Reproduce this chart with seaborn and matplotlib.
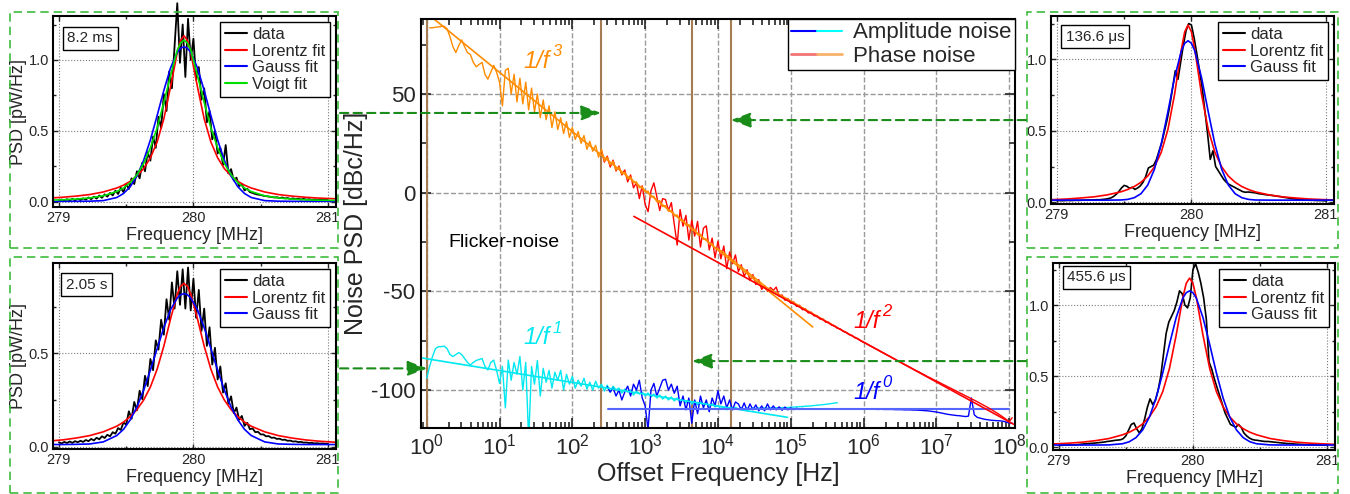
import numpy as np
import matplotlib
matplotlib.use("Agg")
import matplotlib.pyplot as plt
import seaborn as sns
from matplotlib.lines import Line2D
from matplotlib.legend_handler import HandlerTuple
from matplotlib.patches import Rectangle, ConnectionPatch
from matplotlib.ticker import FormatStrFormatter, MultipleLocator, LogLocator, NullFormatter
from matplotlib.transforms import blended_transform_factory

# Style
sns.set_style("ticks")
plt.rcParams['font.family'] = ['Liberation Sans', 'DejaVu Sans']
plt.rcParams['axes.unicode_minus'] = False

# -------------------------------
# DATA: side panels (PSD in pW/Hz vs MHz)
# -------------------------------
F_FIT_L = [278.88, 279.03, 279.13, 279.23, 279.33, 279.43, 279.48, 279.53, 279.58, 279.63, 279.68, 279.73,
           279.78, 279.83, 279.88, 279.905, 279.93, 279.955, 279.98, 280.03, 280.08, 280.13, 280.18, 280.23,
           280.28, 280.33, 280.38, 280.43, 280.53, 280.63, 280.73, 280.83, 280.93, 281.08]
F_FIT_R = [278.925, 279.075, 279.175, 279.275, 279.375, 279.475, 279.525, 279.575, 279.625, 279.675, 279.725,
           279.775, 279.825, 279.875, 279.925, 279.95, 279.975, 280.0, 280.025, 280.075, 280.125, 280.175,
           280.225, 280.275, 280.325, 280.375, 280.425, 280.475, 280.575, 280.675, 280.775, 280.875, 280.975, 281.125]

# 8.2 ms
D_TL = [0.008, 0.016, 0.006, 0.018, 0.009, 0.020, 0.010, 0.022, 0.012, 0.024, 0.015,
        0.030, 0.018, 0.036, 0.022, 0.044, 0.028, 0.052, 0.036, 0.062, 0.045,
        0.078, 0.055, 0.098, 0.068, 0.125, 0.090, 0.165, 0.125, 0.215, 0.165,
        0.275, 0.215, 0.350, 0.290, 0.460, 0.380, 0.600, 0.520, 0.760, 0.640,
        0.920, 0.800, 1.100, 1.400, 0.980, 1.250, 0.880, 1.290, 1.000, 1.150,
        0.860, 0.950, 0.720, 0.800, 0.560, 0.640, 0.440, 0.500, 0.340, 0.380,
        0.260, 0.400, 0.200, 0.230, 0.150, 0.170, 0.110, 0.125, 0.080, 0.092,
        0.068, 0.062, 0.055, 0.050, 0.048, 0.042, 0.040, 0.036, 0.034, 0.030,
        0.032, 0.026, 0.030, 0.024, 0.026, 0.020, 0.024, 0.018, 0.022, 0.016,
        0.020, 0.015, 0.018, 0.014, 0.016, 0.012, 0.015, 0.012, 0.014, 0.012]
L_TL = [0.023, 0.032, 0.040, 0.051, 0.069, 0.097, 0.117, 0.144, 0.182, 0.234, 0.310, 0.421, 0.585, 0.810,
        1.053, 1.138, 1.170, 1.138, 1.053, 0.810, 0.585, 0.421, 0.310, 0.234, 0.182, 0.144, 0.117, 0.097,
        0.069, 0.051, 0.040, 0.032, 0.026, 0.020]
G_TL = [0.003, 0.003, 0.003, 0.004, 0.008, 0.030, 0.058, 0.106, 0.182, 0.292, 0.436, 0.607, 0.785, 0.944,
        1.054, 1.083, 1.093, 1.083, 1.054, 0.944, 0.785, 0.607, 0.436, 0.292, 0.182, 0.106, 0.058, 0.030,
        0.008, 0.004, 0.003, 0.003, 0.003, 0.003]
V_TL = [0.010, 0.014, 0.019, 0.027, 0.042, 0.072, 0.097, 0.135, 0.190, 0.270, 0.380, 0.520, 0.700, 0.890,
        1.070, 1.120, 1.140, 1.120, 1.070, 0.890, 0.700, 0.520, 0.380, 0.270, 0.190, 0.135, 0.097, 0.072,
        0.042, 0.027, 0.019, 0.014, 0.011, 0.009]

# 2.05 s
D_BL = [0.024, 0.018, 0.026, 0.020, 0.028, 0.021, 0.030, 0.024, 0.032, 0.026, 0.036,
        0.030, 0.042, 0.034, 0.048, 0.040, 0.056, 0.047, 0.064, 0.056, 0.078,
        0.070, 0.100, 0.090, 0.130, 0.118, 0.190, 0.150, 0.240, 0.195, 0.300,
        0.255, 0.380, 0.325, 0.470, 0.410, 0.570, 0.520, 0.680, 0.600, 0.790,
        0.680, 0.880, 0.740, 0.940, 0.760, 0.950, 0.740, 0.960, 0.730, 0.900,
        0.690, 0.840, 0.620, 0.740, 0.540, 0.640, 0.440, 0.530, 0.360, 0.430,
        0.290, 0.340, 0.230, 0.270, 0.180, 0.210, 0.145, 0.165, 0.112, 0.128,
        0.094, 0.098, 0.078, 0.080, 0.066, 0.066, 0.056, 0.057, 0.048, 0.049,
        0.042, 0.043, 0.037, 0.038, 0.032, 0.033, 0.028, 0.029, 0.025, 0.026,
        0.022, 0.023, 0.020, 0.021, 0.018, 0.019, 0.017, 0.018, 0.016, 0.016]
L_BL = [0.028, 0.037, 0.047, 0.060, 0.080, 0.110, 0.132, 0.161, 0.199, 0.250, 0.320, 0.415, 0.539, 0.685,
        0.818, 0.860, 0.875, 0.860, 0.818, 0.685, 0.539, 0.415, 0.320, 0.250, 0.199, 0.161, 0.132, 0.110,
        0.080, 0.060, 0.047, 0.037, 0.030, 0.023]
G_BL = [0.012, 0.012, 0.013, 0.015, 0.026, 0.060, 0.093, 0.144, 0.213, 0.303, 0.410, 0.525, 0.638, 0.734,
        0.797, 0.814, 0.820, 0.814, 0.797, 0.734, 0.638, 0.525, 0.410, 0.303, 0.213, 0.144, 0.093, 0.060,
        0.026, 0.015, 0.013, 0.012, 0.012, 0.012]

# 136.6 us
D_TR = [0.012, 0.012, 0.011, 0.012, 0.013, 0.012, 0.013, 0.014, 0.013, 0.014, 0.015,
        0.015, 0.016, 0.016, 0.017, 0.018, 0.018, 0.020, 0.022, 0.025, 0.030,
        0.040, 0.055, 0.075, 0.100, 0.118, 0.112, 0.098, 0.105, 0.090, 0.100,
        0.115, 0.140, 0.180, 0.240, 0.250, 0.260, 0.300, 0.360, 0.420, 0.500,
        0.580, 0.680, 0.800, 0.920, 0.860, 0.980, 1.100, 1.200, 1.250, 1.240,
        1.150, 1.040, 0.920, 0.800, 0.640, 0.480, 0.300, 0.360, 0.250, 0.220,
        0.190, 0.160, 0.140, 0.125, 0.115, 0.105, 0.095, 0.085, 0.075, 0.070,
        0.072, 0.070, 0.068, 0.065, 0.060, 0.058, 0.055, 0.052, 0.050, 0.048,
        0.045, 0.042, 0.040, 0.036, 0.033, 0.030, 0.026, 0.024, 0.022, 0.020,
        0.018, 0.016, 0.015, 0.014, 0.014, 0.013, 0.012, 0.012, 0.011, 0.010]
L_TR = [0.017, 0.023, 0.030, 0.038, 0.052, 0.073, 0.089, 0.110, 0.140, 0.183, 0.248, 0.348, 0.508, 0.756,
        1.069, 1.192, 1.240, 1.192, 1.069, 0.756, 0.508, 0.348, 0.248, 0.183, 0.140, 0.110, 0.089, 0.073,
        0.052, 0.038, 0.030, 0.023, 0.019, 0.014]
G_TR = [0.015, 0.015, 0.015, 0.015, 0.015, 0.016, 0.020, 0.032, 0.060, 0.120, 0.231, 0.405, 0.633, 0.873,
        1.059, 1.112, 1.130, 1.112, 1.059, 0.873, 0.633, 0.405, 0.231, 0.120, 0.060, 0.032, 0.020, 0.016,
        0.015, 0.015, 0.015, 0.015, 0.015, 0.015]

# 455.6 us
D_BR = [0.012, 0.013, 0.014, 0.014, 0.015, 0.016, 0.017, 0.018, 0.020, 0.022, 0.024,
        0.025, 0.027, 0.028, 0.030, 0.032, 0.034, 0.036, 0.040, 0.042, 0.045,
        0.048, 0.050, 0.052, 0.060, 0.080, 0.120, 0.160, 0.170, 0.130, 0.100,
        0.130, 0.200, 0.280, 0.340, 0.300, 0.330, 0.400, 0.500, 0.650, 0.800,
        0.880, 0.920, 0.960, 1.020, 1.100, 1.080, 1.000, 0.980, 1.050, 1.250,
        1.290, 1.230, 1.150, 1.050, 0.900, 0.600, 0.550, 0.480, 0.420, 0.360,
        0.300, 0.240, 0.200, 0.160, 0.150, 0.140, 0.160, 0.140, 0.100, 0.080,
        0.065, 0.055, 0.050, 0.048, 0.045, 0.042, 0.040, 0.040, 0.038, 0.036,
        0.034, 0.032, 0.030, 0.028, 0.026, 0.025, 0.024, 0.022, 0.021, 0.020,
        0.019, 0.018, 0.017, 0.016, 0.016, 0.015, 0.015, 0.014, 0.014, 0.014]
L_BR = [0.021, 0.028, 0.035, 0.046, 0.061, 0.087, 0.105, 0.130, 0.164, 0.213, 0.284, 0.391, 0.554, 0.788,
        1.055, 1.153, 1.190, 1.153, 1.055, 0.788, 0.554, 0.391, 0.284, 0.213, 0.164, 0.130, 0.105, 0.087,
        0.061, 0.046, 0.035, 0.028, 0.023, 0.017]
G_BR = [0.015, 0.015, 0.015, 0.015, 0.016, 0.024, 0.038, 0.067, 0.121, 0.211, 0.346, 0.523, 0.723, 0.912,
        1.050, 1.087, 1.100, 1.087, 1.050, 0.912, 0.723, 0.523, 0.346, 0.211, 0.121, 0.067, 0.038, 0.024,
        0.016, 0.015, 0.015, 0.015, 0.015, 0.015]

# -------------------------------
# DATA: center panel (dBc/Hz vs Hz), log-spaced samples
# -------------------------------
ORANGE_LOG = (0.04, 5.64)
ORANGE_DB = [83.5, 83.6, 83.8, 84.0, 84.2, 84.3, 83.0, 79.0, 74.0, 71.0, 74.5, 77.4, 74.0, 71.0, 70.0, 66.0,
             63.8, 65.0, 66.0, 60.0, 57.5, 61.0, 64.5, 61.0, 56.0,
             44, 62, 63, 50, 60, 46, 58, 45, 56, 42, 53, 41, 50, 38, 47, 37, 44, 33, 41, 32, 38, 30, 36, 28, 33,
             27, 31, 25, 29, 22, 26, 21, 24, 18, 22, 16, 18, 14, 16, 11.5, 13, 9.5, 10.5, 7, 8, 5, 5.5, 2.5, 3, 0.5,
             0.8, -2.2, -1.8, -4.6, -4.0, -7.0, -6.5, -9.4, -8.9, -11.8, -11.3, -14.1, -13.8, -16.5, -16.2,
             -18.9, -18.6, -21.3, -21.0, -23.6, -23.4, -26.0, -25.9, -28.3, -28.4,
             -29.4, -30.2, -31.8, -32.6, -34.2, -35.0, -36.5, -37.5, -38.8, -39.9, -41.2, -42.3, -43.5, -44.6,
             -45.9, -47.2, -48.2, -49.0, -49.9, -50.7, -51.5, -52.4, -53.1, -54.0, -54.8,
             -55.7, -56.5, -57.4, -58.2, -59.1, -59.9, -60.8, -61.6, -62.5, -63.3, -64.1, -65.0, -65.8, -66.7,
             -67.5, -68.3]
RED_LOG = (2.40, 8.04)
RED_DB = [21.5, 15.5, 18.5, 13.0, 16.5, 11.0, 13.5, 9.0, 11.5, 5.5, 9.0, 2.5, 5.0, -3.0, 3.5, -6.0,
          -9.6, 1.0, 5.0, -2.0, -9.0, -3.0, -3.5, -9.0, -5.0, -16.0, -26.5, -8.5, -17.0, -11.5, -24.0, -14.0,
          -22.0, -14.5, -27.5, -18.0, -16.8, -29.0, -23.0, -33.0, -24.5,
          -33.5, -27.0, -38.5, -30.0, -36.0, -31.5, -40.0, -36.5, -42.5, -39.0, -44.5, -41.5, -46.5, -44.0, -49.0,
          -47.0, -50.0, -48.0, -49.5, -47.8, -52.5, -51.8, -54.5, -53.6, -56.0, -55.3, -57.6, -57.0, -59.3,
          -58.8, -60.9, -60.5, -62.4, -62.2, -64.0, -63.9, -65.6, -65.6, -67.1, -67.4, -68.7, -69.0, -70.3,
          -70.7, -71.9, -72.3, -73.5, -73.9, -75.1, -75.8,
          -76.5, -77.4, -78.1, -79.0, -79.7, -80.6, -81.3, -82.2, -82.9, -83.8, -84.5, -85.4, -86.1, -87.0,
          -87.7, -88.5, -89.3, -90.1, -90.8, -91.6, -92.4, -93.2, -93.9, -94.7, -95.4, -96.1, -96.9, -97.6,
          -98.4, -99.1, -99.9, -100.6, -101.4, -102.1, -102.9, -103.6, -104.4, -105.1, -105.9, -106.7, -107.5,
          -108.3, -109.1, -110.0, -110.9, -111.8, -112.8, -113.8, -114.9, -116.0, -114.0]
CYAN_LOG = (0.0, 5.64)
CYAN_DB = [-94, -88, -83, -79, -78, -78, -77.7, -79, -82, -83, -82, -81, -82, -84, -86, -87.3, -86, -85,
           -84.5, -84, -88, -89.8, -86, -84.8, -90,
           -96.6, -88, -109, -84.8, -95, -86, -92, -83, -100, -86, -125, -88, -97, -85, -103, -89, -96, -90,
           -99, -91, -95, -90, -100, -92, -97,
           -93, -99, -95, -98, -94, -99.5, -96, -100, -95.5, -99, -97, -100.5, -97.5, -101, -98, -100, -99,
           -101.5, -99.5, -101, -100, -102.5, -100.5, -102, -101,
           -103, -101.5, -103.5, -102, -104, -102.5, -104.5, -103, -105, -103.5, -105.5, -104, -106, -104.5,
           -106.5, -105, -107, -105.5, -107.5, -106, -108, -106.5, -108.5, -107, -108.5,
           -108, -109.5, -108.5, -110, -108.8, -109.8, -108.7, -109.6, -108.9, -109.7, -109, -109.5, -109,
           -109.4, -109, -109.3, -109, -109.2, -109, -109.1, -109, -109, -108.9, -108.9, -108.8,
           -108.7, -108.6, -108.5, -108.4, -108.3, -108.2, -108.1, -108.0, -107.8, -107.7, -107.5, -107.4,
           -107.2, -107.0, -106.8, -106.6, -106.4]
BLUE_LOG = (2.48, 8.04)
BLUE_DB = [-98.3, -101, -99, -103, -100, -105, -101, -98, -103, -97, -100, -95, -104,
           -108, -120, -100, -96.6, -103, -99, -95, -94.5, -100, -97, -101.6, -98, -108, -103, -110, -104,
           -116.8, -105, -112, -103, -109, -105, -111, -104, -108,
           -100.3, -107, -103, -109, -105, -110, -106, -107, -110, -106.5, -110.5, -107, -110, -107.5, -110.5,
           -108, -110.5, -107, -110, -108, -110, -108.5, -110.2, -108.6, -110,
           -109, -109.9, -109.2, -109.8, -109.3, -109.7, -109.4, -109.7, -109.4, -109.6, -109.5, -109.6, -109.5,
           -109.6, -109.5, -109.6, -109.5, -109.6, -109.5, -109.6, -109.6, -109.6, -109.6, -109.7, -109.6,
           -109.7, -109.6, -109.7, -109.7, -109.7, -109.8, -109.7, -109.8, -109.8, -109.8, -109.8, -109.9,
           -109.9, -109.9, -110.0, -110.0, -110.0, -110.1, -110.1, -110.2, -110.3, -110.4, -110.5, -110.7, -110.9,
           -111.1, -111.4, -111.7, -112.0, -112.3, -112.5, -112.7, -112.9, -113.0, -113.2, -113.4, -113.2, -104,
           -112.5, -113.8, -114.2, -114.6, -114.9, -115.1, -115.3, -115.4, -115.5, -115.6, -115.8, -116.2,
           -116.6, -116.8]

# power-law fit lines (two end points each)
ORANGE_FIT_F, ORANGE_FIT_DB = [1.2, 2.0e5], [88.6, -68.0]
RED_FIT_F, RED_FIT_DB = [700, 1.15e8], [-12.0, -117.3]
CYAN_FIT_F, CYAN_FIT_DB = [0.82, 9.0e4], [-83.6, -113.8]
BLUE_FIT_F, BLUE_FIT_DB = [310, 1.0e8], [-109.6, -109.6]
MARKER_F = [1.02, 248, 4400, 15000]

ORANGE = '#ff8c00'
RED = '#ff0000'
CYAN = '#00e8f0'
BLUE = '#0000ff'
GREEN_BOX = '#3dbb3d'
GREEN_ARROW = '#1a8c1a'
W, H = 1350, 494


# -------------------------------
# 1. SIDE PANELS
# -------------------------------
def side_panel(ax, data, fit_f, fits, tag, tag_xy, ylim, yticks, ylabel=True, data_lw=1.3):
    f = np.linspace(279.0, 281.0, len(data))
    sns.lineplot(x=f, y=data, ax=ax, color='black', lw=data_lw, label='data', estimator=None, sort=False)
    ax.lines[-1].set_clip_on(False)
    for name, vals, col in fits:
        sns.lineplot(x=fit_f, y=vals, ax=ax, color=col, lw=1.2, label=name, estimator=None, sort=False)
    ax.set_xlim(278.956, 281.06)
    ax.set_ylim(*ylim)
    ax.set_xticks([279, 280, 281])
    ax.set_yticks(yticks)
    ax.xaxis.set_minor_locator(MultipleLocator(0.5))
    ax.yaxis.set_minor_locator(MultipleLocator(0.25))
    ax.yaxis.set_major_formatter(FormatStrFormatter('%.1f'))
    ax.grid(True, which='major', ls=':', color='#7a7a7a', lw=0.8)
    ax.tick_params(which='both', direction='in', top=True, right=True, labelsize=10.5, width=1)
    ax.tick_params(which='major', length=3.5, pad=3)
    ax.tick_params(which='minor', length=2)
    for s in ax.spines.values():
        s.set_linewidth(1.5)
        s.set_color('black')
    ax.set_xlabel('Frequency [MHz]', fontsize=13, labelpad=1)
    if ylabel:
        ax.set_ylabel('PSD [pW/Hz]', fontsize=13, labelpad=1)
    else:
        ax.set_ylabel(None)
    leg = ax.legend(loc='upper right', fontsize=12, fancybox=False, edgecolor='black', framealpha=1,
                    handlelength=1.3, handletextpad=0.3, borderpad=0.3, labelspacing=0.1,
                    borderaxespad=0.35)
    leg.get_frame().set_linewidth(1.0)
    for ln in leg.get_lines():
        ln.set_linewidth(1.5)
    ax.text(tag_xy[0], tag_xy[1], tag, transform=ax.transAxes, fontsize=11, ha='left', va='top',
            bbox=dict(boxstyle='square,pad=0.3', fc='white', ec='black', lw=1))


fig = plt.figure(figsize=(13.5, 4.94), dpi=100)

ax_tl = fig.add_axes([53 / W, 1 - 207 / H, 283 / W, 191 / H])
side_panel(ax_tl, D_TL, F_FIT_L, [('Lorentz fit', L_TL, RED), ('Gauss fit', G_TL, BLUE),
                                  ('Voigt fit', V_TL, '#00e000')],
           '8.2 ms', (0.051, 0.919), (-0.037, 1.31), [0.0, 0.5, 1.0])

ax_bl = fig.add_axes([53 / W, 1 - 449 / H, 283 / W, 186 / H])
side_panel(ax_bl, D_BL, F_FIT_L, [('Lorentz fit', L_BL, RED), ('Gauss fit', G_BL, BLUE)],
           '2.05 s', (0.046, 0.92), (-0.012, 0.984), [0.0, 0.5])

ax_tr = fig.add_axes([1051 / W, 1 - 204 / H, 283 / W, 188 / H])
side_panel(ax_tr, D_TR, F_FIT_R, [('Lorentz fit', L_TR, RED), ('Gauss fit', G_TR, BLUE)],
           '136.6 μs', (0.053, 0.928), (-0.012, 1.303), [0.0, 0.5, 1.0], ylabel=False, data_lw=1.2)

ax_br = fig.add_axes([1053 / W, 1 - 450 / H, 282 / W, 187 / H])
side_panel(ax_br, D_BR, F_FIT_R, [('Lorentz fit', L_BR, RED), ('Gauss fit', G_BR, BLUE)],
           '455.6 μs', (0.05, 0.96), (-0.02, 1.296), [0.0, 0.5, 1.0], ylabel=False, data_lw=1.2)


# -------------------------------
# 2. CENTER NOISE PANEL
# -------------------------------
ax = fig.add_axes([421 / W, 1 - 428 / H, 594 / W, 409 / H])


def trace(logs, vals, color, lw=1.0):
    f = np.logspace(logs[0], logs[1], len(vals))
    sns.lineplot(x=f, y=vals, ax=ax, color=color, lw=lw, estimator=None, sort=False)


for fm in MARKER_F:
    ax.axvline(fm, color='#a57c52', lw=1.5, zorder=1)

trace(CYAN_LOG, CYAN_DB, CYAN)
trace(BLUE_LOG, BLUE_DB, BLUE)
sns.lineplot(x=CYAN_FIT_F, y=CYAN_FIT_DB, ax=ax, color=CYAN, lw=1.2)
sns.lineplot(x=BLUE_FIT_F, y=BLUE_FIT_DB, ax=ax, color='#5566ff', lw=1.5)
trace(RED_LOG, RED_DB, RED)
trace(ORANGE_LOG, ORANGE_DB, ORANGE)
sns.lineplot(x=ORANGE_FIT_F, y=ORANGE_FIT_DB, ax=ax, color=ORANGE, lw=1.2)
sns.lineplot(x=RED_FIT_F, y=RED_FIT_DB, ax=ax, color=RED, lw=1.2)

ax.set_xscale('log')
ax.set_xlim(0.835, 1.2e8)
ax.set_ylim(-119.2, 88)
ax.xaxis.set_major_locator(LogLocator(base=10, numticks=12))
ax.xaxis.set_minor_locator(LogLocator(base=10, subs=np.arange(2, 10), numticks=12))
ax.xaxis.set_minor_formatter(NullFormatter())
ax.yaxis.set_major_locator(MultipleLocator(50))
ax.yaxis.set_minor_locator(MultipleLocator(25))
ax.grid(True, which='major', ls='--', color='#9a9a9a', lw=1.0)
ax.tick_params(which='both', direction='in', top=True, right=True, labelsize=16, width=1.2)
ax.tick_params(which='major', length=7, pad=4)
ax.tick_params(which='minor', length=4)
for s in ax.spines.values():
    s.set_linewidth(1.5)
    s.set_color('black')
ax.set_xlabel('Offset Frequency [Hz]', fontsize=18, labelpad=2)
ax.set_ylabel('Noise PSD [dBc/Hz]', fontsize=18, labelpad=2)

# power-law labels: "1/f" with a raised exponent
for fx, db, power, col in [(21, 66.4, '3', ORANGE), (21, -73.6, '1', CYAN),
                           (7.2e5, -65, '2', RED), (7.2e5, -101, '0', BLUE)]:
    ax.text(fx, db, '1/f', color=col, fontsize=17, fontstyle='italic', ha='left', va='center')
    ax.annotate(power, xy=(fx, db), xytext=(21, 7), textcoords='offset points', color=col,
                fontsize=12, fontstyle='italic', ha='left', va='center')
ax.text(2.0, -25, 'Flicker-noise', color='black', fontsize=14, ha='left', va='center')

h_amp = (Line2D([], [], color=BLUE, lw=1.5), Line2D([], [], color='#00ffff', lw=1.5))
h_ph = (Line2D([], [], color='#f27474', lw=2), Line2D([], [], color='#f7b26b', lw=2))
leg = ax.legend([h_amp, h_ph], ['Amplitude noise', 'Phase noise'],
                handler_map={tuple: HandlerTuple(ndivide=None, pad=0)},
                loc='upper right', bbox_to_anchor=(1, 1), borderaxespad=0, fontsize=16,
                fancybox=False, edgecolor='black', framealpha=1, handlelength=2.3,
                handletextpad=0.5, borderpad=0.15, labelspacing=0.1)
leg.get_frame().set_linewidth(1.0)


# -------------------------------
# 3. DASHED BOXES AND ARROWS
# -------------------------------
for x0, y0, x1, y1 in [(10, 12, 338, 248), (10, 257, 338, 493), (1027, 12, 1338, 248), (1027, 257, 1338, 493)]:
    fig.add_artist(Rectangle((x0 / W, 1 - y1 / H), (x1 - x0) / W, (y1 - y0) / H, transform=fig.transFigure,
                             fill=False, ec=GREEN_BOX, ls=(0, (5, 3)), lw=1.2))

blend = blended_transform_factory(fig.transFigure, ax.transData)
for x_start, y_db, f_end in [(340 / W, 40.4, MARKER_F[1]), (340 / W, -89.0, MARKER_F[0]),
                             (1026 / W, 36.8, MARKER_F[3]), (1026 / W, -85.3, MARKER_F[2])]:
    con = ConnectionPatch(xyA=(x_start, y_db), coordsA=blend, xyB=(f_end, y_db), coordsB=ax.transData,
                          arrowstyle='-|>,head_length=0.8,head_width=0.3', mutation_scale=15,
                          color=GREEN_ARROW, lw=1.5, ls=(0, (4, 2.5)))
    fig.add_artist(con)

fig.savefig('out.png', dpi=100)
plt.close()
